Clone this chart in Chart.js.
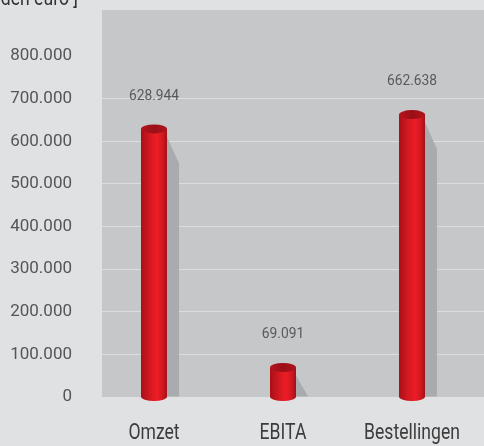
<!DOCTYPE html>
<html>
<head>
<meta charset="utf-8">
<script src="https://cdn.jsdelivr.net/npm/chart.js@4.4.1/dist/chart.umd.min.js"></script>
<style>
  html, body { margin: 0; padding: 0; background: #e0e1e3; }
  canvas { display: block; }
</style>
</head>
<body>
<canvas id="chart" width="484" height="446"></canvas>
<script>
const categories = ['Omzet', 'EBITA', 'Bestellingen'];
const values = [628944, 69091, 662638];
const yTicks = [0, 100000, 200000, 300000, 400000, 500000, 600000, 700000, 800000];
const unitLabel = '[ in duizenden euro ]';

const FONT = "Roboto, 'Liberation Sans', sans-serif";

// 628944 -> "628.944"
const fmt = v => String(v).replace(/\B(?=(\d{3})+(?!\d))/g, '.');

// condensed look: squeeze text horizontally
function narrowText(ctx, text, x, y, align, squeeze) {
    ctx.save();
    ctx.translate(x, y);
    ctx.scale(squeeze, 1);
    ctx.textAlign = align;
    ctx.fillText(text, 0, 0);
    ctx.restore();
}

const cylinders = {
    id: 'cylinders',
    beforeDraw(chart) {
        const { ctx, chartArea: a } = chart;
        ctx.save();
        ctx.fillStyle = '#e0e1e3';
        ctx.fillRect(0, 0, chart.width, chart.height);
        ctx.fillStyle = '#c6c7c9';
        ctx.fillRect(a.left, a.top, a.right - a.left, a.bottom - a.top);
        ctx.restore();
    },
    beforeDatasetsDraw(chart) {
        // shadows behind the bars
        const { ctx } = chart;
        ctx.save();
        ctx.fillStyle = '#aaabae';
        chart.getDatasetMeta(0).data.forEach(bar => {
            const r = bar.x + bar.width / 2;
            const start = bar.y + 8;
            const end = Math.min(start + 12 * 2.2, bar.base);
            ctx.beginPath();
            ctx.moveTo(r, start);
            ctx.lineTo(r + 12, end);
            ctx.lineTo(r + 12, bar.base);
            ctx.lineTo(r, bar.base);
            ctx.closePath();
            ctx.fill();
        });
        ctx.restore();
    },
    afterDatasetsDraw(chart) {
        const { ctx } = chart;
        ctx.save();
        chart.getDatasetMeta(0).data.forEach((bar, i) => {
            const l = bar.x - bar.width / 2;
            const w = bar.width;
            const ry = 4.5;

            const body = ctx.createLinearGradient(l, 0, l + w, 0);
            body.addColorStop(0, '#a90f18');
            body.addColorStop(0.35, '#d41920');
            body.addColorStop(0.62, '#ee1d26');
            body.addColorStop(0.85, '#cc171f');
            body.addColorStop(1, '#a30f17');

            ctx.fillStyle = body;
            ctx.beginPath();
            ctx.moveTo(l, bar.y);
            ctx.lineTo(l, bar.base);
            ctx.ellipse(bar.x, bar.base, w / 2, ry, 0, Math.PI, 0, true);
            ctx.lineTo(l + w, bar.y);
            ctx.closePath();
            ctx.fill();

            const top = ctx.createLinearGradient(l, 0, l + w, 0);
            top.addColorStop(0, '#b8141c');
            top.addColorStop(0.5, '#9a0f17');
            top.addColorStop(1, '#b3131b');
            ctx.fillStyle = top;
            ctx.beginPath();
            ctx.ellipse(bar.x, bar.y, w / 2, ry, 0, 0, Math.PI * 2);
            ctx.fill();

            ctx.fillStyle = '#5a5a5a';
            ctx.font = '15px ' + FONT;
            ctx.textBaseline = 'middle';
            narrowText(ctx, fmt(values[i]), bar.x, bar.y - 33, 'center', 0.92);
        });
        ctx.restore();
    },
    afterDraw(chart) {
        const { ctx } = chart;
        const xs = chart.scales.x;
        ctx.save();
        ctx.fillStyle = '#3c3c3c';
        ctx.font = '22px ' + FONT;
        ctx.textBaseline = 'alphabetic';
        categories.forEach((c, i) => {
            narrowText(ctx, c, xs.getPixelForValue(i), 439, 'center', 0.8);
        });
        ctx.fillStyle = '#333';
        narrowText(ctx, unitLabel, 78, 5, 'right', 0.8);
        ctx.restore();
    }
};

new Chart(document.getElementById('chart'), {
    type: 'bar',
    data: {
        datasets: [{
            data: values.map((v, i) => ({ x: i, y: v })),
            backgroundColor: 'rgba(0,0,0,0)',
            barThickness: 26,
            clip: false,
        }],
    },
    options: {
        responsive: false,
        animation: false,
        devicePixelRatio: 1,
        layout: { padding: { top: 10, right: 0, bottom: 0, left: 0 } },
        plugins: {
            legend: { display: false },
            tooltip: { enabled: false },
        },
        scales: {
            x: {
                type: 'linear',
                offset: false,
                min: -0.403,
                max: 2.558,
                afterBuildTicks: s => { s.ticks = categories.map((c, i) => ({ value: i })); },
                afterFit: s => {
                    s.height = 49;
                    s.paddingLeft = 0;
                    s.paddingRight = 0;
                },
                grid: { display: false, drawTicks: false },
                border: { display: false },
                ticks: { display: false },
            },
            y: {
                min: 0,
                max: 908000,
                afterBuildTicks: s => { s.ticks = yTicks.map(v => ({ value: v })); },
                afterFit: s => {
                    s.width = 102;
                    s.paddingTop = 0;
                    s.paddingBottom = 0;
                },
                grid: {
                    drawTicks: false,
                    color: c => (c.tick && c.tick.value > 0 && c.tick.value < 800000) ? '#dcdddf' : 'rgba(0,0,0,0)',
                    lineWidth: 1,
                },
                border: { display: false },
                ticks: {
                    callback: v => fmt(v),
                    color: '#555',
                    font: { family: FONT, size: 17 },
                    padding: 30,
                },
            },
        },
    },
    plugins: [cylinders],
});
</script>
</body>
</html>
